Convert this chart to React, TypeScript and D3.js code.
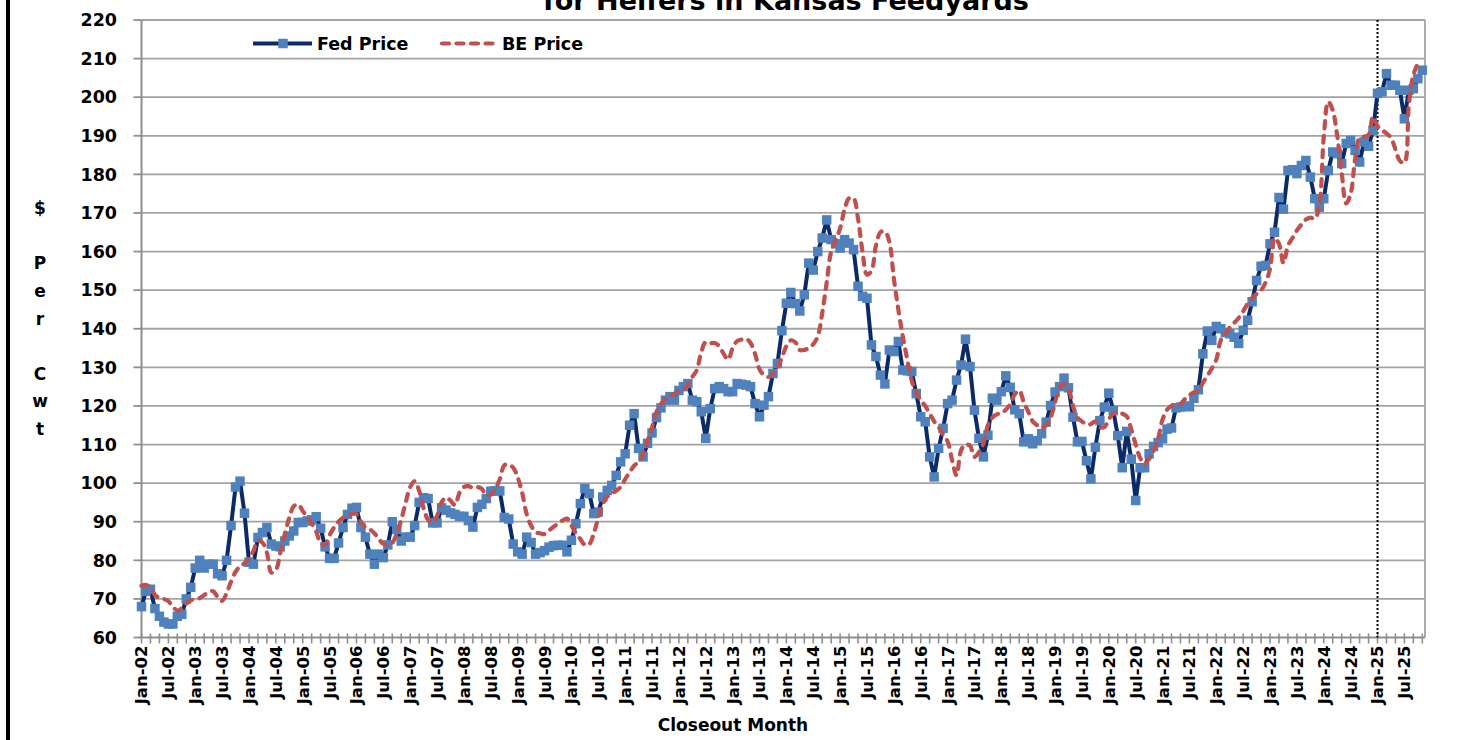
import React, { useRef, useEffect } from 'react';
import * as d3 from 'd3';

// monthly closeouts, Jan-02 .. Nov-25 (one row per year)
const fedPrice = [
  68, 72, 72.5, 67.5, 65.5, 64, 63.5, 63.5, 65.5, 66, 70, 73,
  78, 80, 78, 79, 79, 76.5, 76, 80, 89, 99, 100.5, 92.2,
  79.5, 79, 85.9, 87.2, 88.5, 84.2, 83.7, 83.5, 85, 86.3, 87.6, 89.8,
  89.8, 90.2, 90.5, 91.3, 88.3, 83.5, 80.5, 80.5, 84.5, 88.5, 91.9, 93.5,
  93.7, 88.5, 86, 81.6, 79, 81.6, 80.7, 84, 90, 88, 85, 86,
  86, 89, 95, 96.2, 96, 89.7, 89.7, 93.6, 93, 92.3, 91.9, 91.4,
  91.4, 90.3, 88.6, 93.7, 94.5, 96, 97.9, 98, 98, 91.1, 90.7, 84.2,
  82.2, 81.6, 86, 84.6, 81.6, 82, 82.5, 83.4, 83.8, 83.9, 83.9, 82.2,
  85.2, 89.5, 94.7, 98.6, 97.3, 92.1, 92.5, 96.4, 98.1, 99.4, 102, 105.5,
  107.6, 115, 118, 109, 106.8, 110.3, 113, 117, 119.5, 121.5, 122.4, 121.5,
  124, 125, 125.8, 121.5, 121.1, 118.5, 111.6, 119.3, 124.5, 125, 124.5, 123.7,
  123.7, 125.8, 125.6, 125.4, 125, 120.6, 117.2, 120.2, 122.4, 128.4, 131, 139.5,
  146.6, 149.4, 146.5, 144.6, 148.8, 157, 155.2, 160, 163.5, 168.2, 163.1, 162,
  160.9, 163.1, 162.2, 160.5, 151, 148.4, 147.9, 135.8, 132.8, 128, 125.7, 134.5,
  134.1, 136.7, 129.3, 129.1, 128.9, 123.2, 117.2, 115.9, 106.8, 101.6, 109, 114.2,
  120.6, 121.5, 126.7, 130.6, 137.3, 130.2, 118.9, 111.6, 106.8, 112.4, 122, 121.5,
  123.7, 127.8, 124.8, 119, 118, 110.7, 111.5, 110.2, 111, 112.8, 115.8, 120.1,
  123.6, 125, 127.2, 124.7, 117.1, 110.7, 110.8, 105.8, 101.1, 109.3, 116.2, 119.7,
  123.3, 118.8, 112.3, 104, 113.4, 106.2, 95.5, 104, 104, 107.6, 109.5, 110.5,
  111.5, 114, 114.3, 119.5, 119.7, 120, 119.8, 122, 124.2, 133.5, 139.4, 137,
  140.6, 140, 139, 138.7, 137.8, 136.2, 139.6, 142.2, 147, 152.5, 156.2, 156.4,
  162, 165, 174, 171, 181, 181.2, 180.2, 182.3, 183.6, 179.3, 173.7, 171.5,
  173.7, 181, 185.8, 185.4, 182.8, 188, 188.8, 186.2, 183.2, 188.4, 187.3, 191.4,
  201, 201.4, 206.1, 203.1, 203.1, 201.8, 194.4, 201.8, 202.2, 204.8, 207,
];

const bePrice = [
  73.4, 73.6, 73, 71, 70.3, 70, 69.4, 68, 67, 67.6, 68.8, 69.6,
  70, 70.2, 71, 71.8, 72, 70.5, 69.5, 71.5, 74.5, 77, 78.5, 79.2,
  80.5, 82.5, 85, 84.6, 82, 76.8, 77.5, 82, 86.8, 91, 94, 94.5,
  92.8, 91.2, 89.5, 87.5, 84.5, 84, 86.5, 88.5, 90, 91, 91.5, 92,
  92, 90, 88.5, 88, 87, 85.5, 84.3, 84, 84.5, 87, 90.5, 95,
  99, 100.5, 98, 93.5, 90.5, 89.8, 91.5, 95, 96.3, 95.5, 94.3, 97.5,
  99, 99.2, 98.8, 99, 98.5, 96.8, 97, 98.5, 101, 104.6, 104.8, 104,
  101.5, 97.5, 92, 89, 87.3, 87, 86.8, 87.7, 88.7, 89.5, 90.3, 90.8,
  89, 87, 85.5, 84, 84.2, 87, 91, 94.5, 96.5, 97.3, 98, 99,
  101, 102.8, 104.5, 105.5, 107.5, 111, 114.5, 118.5, 120.5, 121.8, 122.5, 123.2,
  123.8, 124.2, 125.5, 127.5, 129.3, 134, 136.6, 136.3, 136.3, 135.5, 133.5, 132,
  135, 136.8, 137.2, 137.4, 136.3, 133.5, 129.5, 128, 127.5, 128.4, 130, 132.5,
  135.5, 137, 136.5, 134.5, 134.5, 135, 136, 138, 144, 152, 160, 163,
  166, 171, 173.8, 173.8, 168.5, 160, 154, 155, 161.5, 165, 165.2, 162.5,
  153, 145, 138, 132, 126.5, 123.5, 121.5, 120, 118, 116, 114.5, 112.5,
  110.8, 106, 102, 108.5, 110, 109.7, 106.8, 108, 110.3, 115, 117, 117.8,
  118.2, 119, 120.5, 123, 124, 121, 118.5, 116, 115, 114.3, 115, 117,
  121, 124.5, 125.7, 124.5, 120, 117, 116, 115.2, 115.3, 116, 114.5, 114.5,
  116.5, 118, 118.2, 118, 117.3, 114, 110, 106.5, 105, 106.3, 108.4, 111.5,
  116.5, 119, 120, 120.3, 120.5, 121.8, 122.8, 123.5, 124, 126, 127.8, 129.7,
  132, 137, 138.7, 140.3, 141.5, 142.8, 144.5, 146.5, 148, 149, 150, 152,
  155.5, 163.5, 162, 157, 161.5, 163.5, 165.5, 167, 168.3, 168.8, 168.5, 172,
  189.7, 198.8, 196.6, 190, 180.5, 172.5, 175, 184, 189.5, 189.8, 190.2, 195,
  192.5, 191.5, 190.6, 189.5, 186.5, 183.5, 183, 198, 205.7, 208.3, 207.5,
];

// one label every 6 months, starting at Jan-02
const xLabels = [
  'Jan-02', 'Jul-02', 'Jan-03', 'Jul-03', 'Jan-04', 'Jul-04', 'Jan-05', 'Jul-05',
  'Jan-06', 'Jul-06', 'Jan-07', 'Jul-07', 'Jan-08', 'Jul-08', 'Jan-09', 'Jul-09',
  'Jan-10', 'Jul-10', 'Jan-11', 'Jul-11', 'Jan-12', 'Jul-12', 'Jan-13', 'Jul-13',
  'Jan-14', 'Jul-14', 'Jan-15', 'Jul-15', 'Jan-16', 'Jul-16', 'Jan-17', 'Jul-17',
  'Jan-18', 'Jul-18', 'Jan-19', 'Jul-19', 'Jan-20', 'Jul-20', 'Jan-21', 'Jul-21',
  'Jan-22', 'Jul-22', 'Jan-23', 'Jul-23', 'Jan-24', 'Jul-24', 'Jan-25', 'Jul-25',
];
const yTicks = [60, 70, 80, 90, 100, 110, 120, 130, 140, 150, 160, 170, 180, 190, 200, 210, 220];
const yTitle = ['$', '', 'P', 'e', 'r', '', 'C', 'w', 't'];
const seriesNames = ['Fed Price', 'BE Price'];
const splitMonth = 276; // Jan-25, dotted divider

function App() {
  const svgRef = useRef(null);

  useEffect(() => {
    const width = 1457;
    const height = 740;
    const left = 141.5, right = 1425, top = 20, bottom = 637.5;
    const font = "'DejaVu Sans', Verdana, sans-serif";
    const fedColor = '#0c2a68';
    const beColor = '#c0504d';
    const beDash = '7,7.5';

    const svg = d3.select(svgRef.current)
      .attr('width', width)
      .attr('height', height)
      .style('background', '#fff');
    svg.selectAll('*').remove();

    const x = d3.scaleLinear().domain([0, fedPrice.length - 1]).range([left, 1422.3]);
    const y = d3.scaleLinear().domain([60, 220]).range([bottom, top]);

    // outer frame bit on the left
    svg.append('rect').attr('x', 6).attr('y', 0).attr('width', 4).attr('height', height).attr('fill', '#000');

    // title (second line only, its top is cut off like in the source)
    svg.append('text')
      .attr('x', 786).attr('y', 10)
      .attr('text-anchor', 'middle')
      .style('font-family', font).style('font-weight', 'bold').style('font-size', '27px')
      .text('for Heifers in Kansas Feedyards');

    // horizontal grid
    svg.append('g').selectAll('line')
      .data(yTicks.filter(d => d > 60))
      .join('line')
      .attr('x1', left).attr('x2', right)
      .attr('y1', d => y(d)).attr('y2', d => y(d))
      .attr('stroke', '#a3a3a3').attr('stroke-width', 1.8);

    // axes
    svg.append('line').attr('x1', left).attr('x2', left).attr('y1', top).attr('y2', bottom)
      .attr('stroke', '#8e8e8e').attr('stroke-width', 2);
    svg.append('line').attr('x1', right).attr('x2', right).attr('y1', top).attr('y2', bottom)
      .attr('stroke', '#a3a3a3').attr('stroke-width', 1.8);
    svg.append('line').attr('x1', left).attr('x2', right).attr('y1', bottom).attr('y2', bottom)
      .attr('stroke', '#8e8e8e').attr('stroke-width', 2);

    svg.append('g').selectAll('line')
      .data(yTicks)
      .join('line')
      .attr('x1', left - 8).attr('x2', left)
      .attr('y1', d => y(d)).attr('y2', d => y(d))
      .attr('stroke', '#8e8e8e').attr('stroke-width', 1.8);

    svg.append('g').selectAll('text')
      .data(yTicks)
      .join('text')
      .attr('x', 117).attr('y', d => y(d)).attr('dy', '0.36em')
      .attr('text-anchor', 'end')
      .style('font-family', font).style('font-weight', 'bold').style('font-size', '17.5px')
      .text(d => d);

    // x ticks every 2 months
    svg.append('g').selectAll('line')
      .data(d3.range(0, fedPrice.length, 2))
      .join('line')
      .attr('x1', d => x(d)).attr('x2', d => x(d))
      .attr('y1', bottom - 4).attr('y2', bottom + 6)
      .attr('stroke', '#8e8e8e').attr('stroke-width', 1.6);

    svg.append('g').selectAll('text')
      .data(xLabels)
      .join('text')
      .attr('transform', (d, i) => `translate(${x(i * 6)},${bottom + 8}) rotate(-90)`)
      .attr('dy', '0.36em')
      .attr('text-anchor', 'end')
      .style('font-family', font).style('font-weight', 'bold').style('font-size', '16.5px')
      .text(d => d);

    svg.append('text')
      .attr('x', 733).attr('y', 731)
      .attr('text-anchor', 'middle')
      .style('font-family', font).style('font-weight', 'bold').style('font-size', '17px')
      .text('Closeout Month');

    // stacked y title
    svg.append('g').selectAll('text')
      .data(yTitle)
      .join('text')
      .attr('x', 40).attr('y', (d, i) => 208 + i * 27.6).attr('dy', '0.36em')
      .attr('text-anchor', 'middle')
      .style('font-family', font).style('font-weight', 'bold').style('font-size', '17px')
      .text(d => d);

    // dotted divider at Jan-25
    svg.append('line')
      .attr('x1', x(splitMonth)).attr('x2', x(splitMonth))
      .attr('y1', top).attr('y2', bottom)
      .attr('stroke', '#000').attr('stroke-width', 2).attr('stroke-dasharray', '2,2');

    // Fed price: straight line with square markers
    const fedLine = d3.line()
      .x((d, i) => x(i))
      .y(d => y(d));

    svg.append('path')
      .datum(fedPrice)
      .attr('d', fedLine)
      .attr('fill', 'none')
      .attr('stroke', fedColor)
      .attr('stroke-width', 4)
      .attr('stroke-linejoin', 'round');

    const ms = 9.5;
    svg.append('g').selectAll('rect')
      .data(fedPrice)
      .join('rect')
      .attr('x', (d, i) => x(i) - ms / 2)
      .attr('y', d => y(d) - ms / 2)
      .attr('width', ms).attr('height', ms)
      .attr('fill', '#4f81bd');

    // BE price: smoothed dashed line
    const beLine = d3.line()
      .x((d, i) => x(i))
      .y(d => y(d))
      .curve(d3.curveCatmullRom.alpha(0.5));

    svg.append('path')
      .datum(bePrice)
      .attr('d', beLine)
      .attr('fill', 'none')
      .attr('stroke', beColor)
      .attr('stroke-width', 4.2)
      .attr('stroke-dasharray', beDash)
      .attr('stroke-linecap', 'round');

    // legend
    const ly = 43.5;
    svg.append('line').attr('x1', 253).attr('x2', 312).attr('y1', ly).attr('y2', ly)
      .attr('stroke', fedColor).attr('stroke-width', 4);
    svg.append('rect').attr('x', 283 - ms / 2).attr('y', ly - ms / 2).attr('width', ms).attr('height', ms)
      .attr('fill', '#4f81bd');
    svg.append('text').attr('x', 317).attr('y', ly).attr('dy', '0.36em')
      .style('font-family', font).style('font-weight', 'bold').style('font-size', '17.5px')
      .text(seriesNames[0]);

    svg.append('line').attr('x1', 442).attr('x2', 496).attr('y1', ly).attr('y2', ly)
      .attr('stroke', beColor).attr('stroke-width', 4.2)
      .attr('stroke-dasharray', beDash).attr('stroke-linecap', 'round');
    svg.append('text').attr('x', 502).attr('y', ly).attr('dy', '0.36em')
      .style('font-family', font).style('font-weight', 'bold').style('font-size', '17.5px')
      .text(seriesNames[1]);
  }, []);

  return (
    <svg ref={svgRef} style={{ position: 'absolute', left: 0, top: 0, display: 'block' }}></svg>
  );
}

export default App;
